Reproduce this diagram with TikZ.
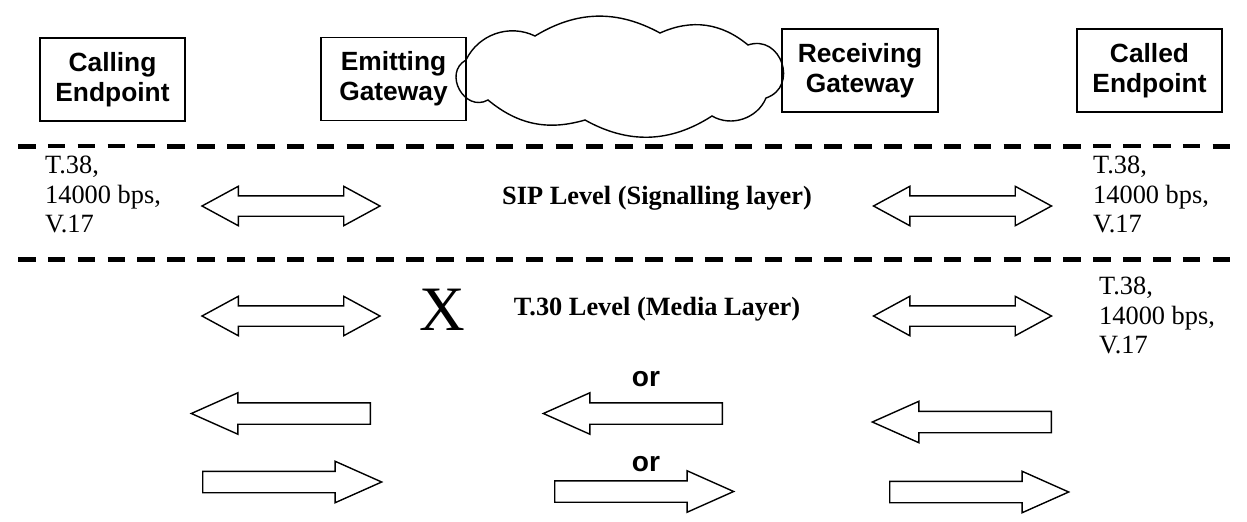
\documentclass[tikz,border=0pt]{standalone}
\usepackage{fontspec}
\setmainfont{Liberation Serif}
\newfontfamily\arialfont{Liberation Sans}
\usetikzlibrary{shapes.arrows}

\begin{document}
\begin{tikzpicture}[x=0.02cm, y=-0.02cm,
  every node/.style={inner sep=0pt},
  line width=0.8pt
]
\tikzset{
  endpoint/.style={draw, align=center, minimum width=2.9cm, minimum height=1.66cm,
    font=\arialfont\bfseries\fontsize{15}{17}\selectfont},
  layerline/.style={line width=2.3pt, dash pattern=on 10pt off 7pt},
  info/.style={anchor=north west, fill=white, align=left, inner xsep=2pt, inner ysep=4.5pt,
    font=\fontsize{15}{17}\selectfont},
  twoway/.style={double arrow, draw, minimum height=3.56cm, inner ysep=0.19cm, inner xsep=0pt,
    double arrow head extend=0.19cm, double arrow tip angle=57},
  toright/.style={single arrow, draw, minimum height=3.58cm, inner ysep=0.2cm, inner xsep=0pt,
    single arrow head extend=0.2cm, single arrow tip angle=48, anchor=tail},
  toleft/.style={toright, shape border rotate=180},
  ortext/.style={anchor=base, font=\arialfont\bfseries\fontsize{16}{19}\selectfont},
  layertext/.style={anchor=base, font=\bfseries\fontsize{15}{18}\selectfont}
}

\useasboundingbox (0,0) rectangle (1247,521);

% network between the gateways
\draw[fill=white] (466,60) to[bend left=45] (535,36) to[bend left=30] (660,33)
  to[bend left=32] (748,45) to[bend left=90, looseness=1.6] (766,98)
  to[bend left=49] (712,116) to[bend left=31] (585,120)
  to[bend left=28] (488,100) to[bend left=90, looseness=1.5] (466,60) -- cycle;

\node[endpoint] (calling) at (112.5,79.5) {Calling\\Endpoint};
\node[endpoint] (emitting) at (393.5,79) {Emitting\\Gateway};
\node[endpoint, minimum width=3.12cm] (receiving) at (860,70.5) {Receiving\\Gateway};
\node[endpoint] (called) at (1149.5,70.5) {Called\\Endpoint};

% layer separators
\draw[layerline] (18,146.5) -- (1240,146.5);
\draw[layerline] (18,259.5) -- (1240,259.5);

\node[info] (paramsA) at (41,147) {T.38,\\14000 bps,\\V.17};
\node[info] (paramsB) at (1089,147) {T.38,\\14000 bps,\\V.17};
\node[info] (paramsC) at (1095,268) {T.38,\\14000 bps,\\V.17};

% SIP level
\node[twoway] (sipL) at (291,206) {};
\node[layertext] (sip) at (657,204) {SIP Level (Signalling layer)};
\node[twoway] (sipR) at (962.5,206) {};

% T.30 level
\node[twoway] (mediaL) at (291,316) {};
\node[font=\fontsize{36}{40}\selectfont] (cross) at (442,310) {X};
\node[layertext] (media) at (657,315) {T.30 Level (Media Layer)};
\node[twoway] (mediaR) at (962.5,316) {};

\node[ortext] (orA) at (646,386) {or};
\node[toleft] (backL) at (371,413.5) {};
\node[toleft] (backM) at (723,413.5) {};
\node[toleft] (backR) at (1052,422) {};

\node[ortext] (orB) at (646,471) {or};
\node[toright] (fwdL) at (202,482) {};
\node[toright] (fwdM) at (554,491.5) {};
\node[toright] (fwdR) at (889,492) {};
\end{tikzpicture}
\end{document}
